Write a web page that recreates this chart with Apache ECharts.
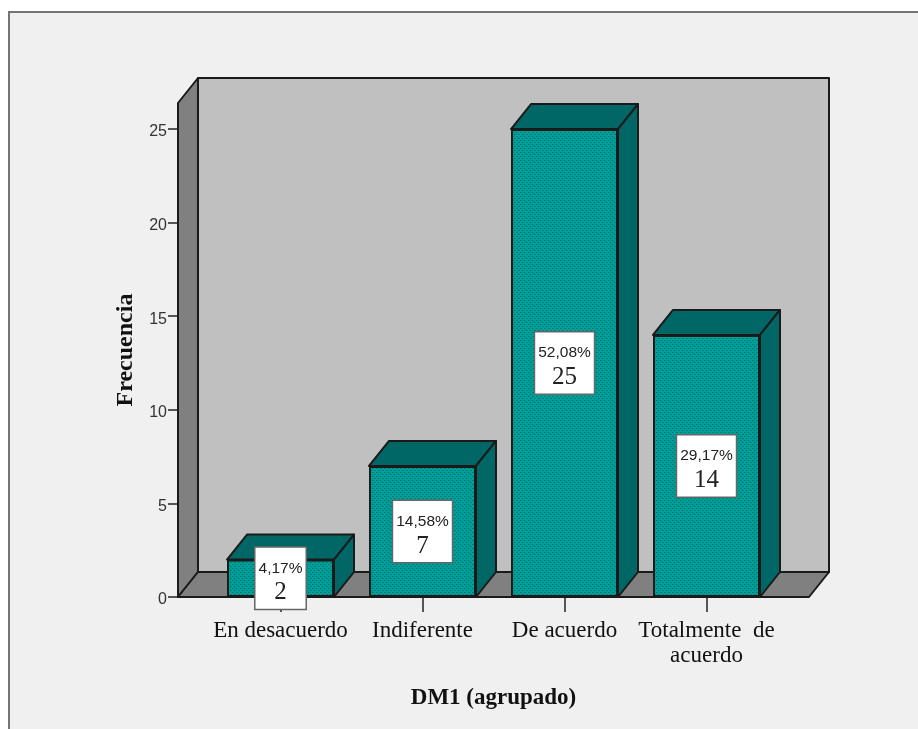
<!DOCTYPE html>
<html>
<head>
<meta charset="utf-8">
<style>html,body{margin:0;padding:0;background:#fff}#chart{width:918px;height:729px}</style>
<script src="https://cdn.jsdelivr.net/npm/echarts@6/dist/echarts.min.js"></script>
</head>
<body>
<div id="chart"></div>
<script>
// Frequencies of DM1 (grouped) as a pseudo-3D bar chart
const categories = ['En desacuerdo', 'Indiferente', 'De acuerdo', 'Totalmente  de\nacuerdo'];
const counts = [2, 7, 25, 14];
const percents = ['4,17%', '14,58%', '52,08%', '29,17%'];
const yTicks = [0, 5, 10, 15, 20, 25];

// Extrusion of the box and its faces
const DEPTH_X = 20, DEPTH_Y = 25, GUTTER = 31.5;
const FACE_TOP = '#006666', WALL_BACK = '#C0C0C0', WALL_SIDE = '#808080', EDGE = '#1a1a1a';

// Dither fill of the bar fronts
function ditherFill() {
  const c = document.createElement('canvas');
  c.width = 4; c.height = 4;
  const g = c.getContext('2d');
  g.fillStyle = '#00A09A';
  g.fillRect(0, 0, 4, 4);
  g.fillStyle = '#006E6C';
  g.fillRect(0, 0, 1, 1);
  g.fillRect(2, 2, 1, 1);
  g.fillStyle = '#008884';
  g.fillRect(1, 0, 1, 1);
  g.fillRect(3, 2, 1, 1);
  return { image: c, repeat: 'repeat' };
}

function poly(points, fill) {
  return {
    type: 'polygon',
    shape: { points },
    style: { fill, stroke: EDGE, lineWidth: 2, lineJoin: 'round' }
  };
}

const chart = echarts.init(document.getElementById('chart'), null, { renderer: 'canvas' });
const yMax = 26.39;

chart.setOption({
  animation: false,
  backgroundColor: '#fff',
  graphic: [{
    type: 'rect', z: -10, silent: true,
    shape: { x: 9, y: 12, width: 920, height: 730 },
    style: { fill: '#F0F0F0', stroke: '#757575', lineWidth: 2 }
  }],
  grid: { left: 209.5, top: 103, width: 568, height: 494 },
  xAxis: {
    type: 'category',
    data: categories,
    name: 'DM1 (agrupado)',
    nameLocation: 'middle',
    nameGap: 90,
    nameTextStyle: { fontFamily: 'Liberation Serif', fontWeight: 'bold', fontSize: 23, color: '#111' },
    axisLine: { show: false },
    axisTick: { show: true, alignWithLabel: true, length: 15, lineStyle: { color: '#222', width: 1.5 } },
    axisLabel: { fontFamily: 'Liberation Serif', fontSize: 23, color: '#111', margin: 21, lineHeight: 25, interval: 0 }
  },
  yAxis: {
    type: 'value',
    min: 0,
    max: yMax,
    interval: 5,
    offset: GUTTER,
    name: 'Frecuencia',
    nameLocation: 'middle',
    nameGap: 40,
    nameTextStyle: { fontFamily: 'Liberation Serif', fontWeight: 'bold', fontSize: 24, color: '#111' },
    splitLine: { show: false },
    axisLine: { show: false },
    axisTick: { show: true, length: 10, customValues: yTicks, lineStyle: { color: '#222', width: 1.5 } },
    axisLabel: {
      fontFamily: 'Liberation Sans', fontSize: 16, color: '#333', margin: 11,
      verticalAlign: 'top',
      lineHeight: 6,
      customValues: yTicks
    }
  },
  series: [
    {
      // Back wall, side wall and floor of the plot box
      type: 'custom',
      z: 1,
      silent: true,
      data: [0],
      renderItem(params, api) {
        const cs = params.coordSys;
        const l = cs.x - GUTTER, r = cs.x + cs.width + GUTTER;
        const t = cs.y, b = cs.y + cs.height;
        return {
          type: 'group',
          children: [
            poly([[l + DEPTH_X, t - DEPTH_Y], [r + DEPTH_X, t - DEPTH_Y], [r + DEPTH_X, b - DEPTH_Y], [l + DEPTH_X, b - DEPTH_Y]], WALL_BACK),
            poly([[l, t], [l + DEPTH_X, t - DEPTH_Y], [l + DEPTH_X, b - DEPTH_Y], [l, b]], WALL_SIDE),
            poly([[l, b], [l + DEPTH_X, b - DEPTH_Y], [r + DEPTH_X, b - DEPTH_Y], [r, b]], WALL_SIDE)
          ]
        };
      }
    },
    {
      // Top and right faces of every bar
      type: 'custom',
      z: 2,
      silent: true,
      data: counts.map((v, i) => [i, v]),
      encode: { x: 0, y: 1 },
      renderItem(params, api) {
        const half = 53.5;
        const top = api.coord([api.value(0), api.value(1)]);
        const base = api.coord([api.value(0), 0]);
        const xl = top[0] - half, xr = top[0] + half;
        return {
          type: 'group',
          children: [
            poly([[xl, top[1]], [xl + DEPTH_X, top[1] - DEPTH_Y], [xr + DEPTH_X, top[1] - DEPTH_Y], [xr, top[1]]], FACE_TOP),
            poly([[xr, top[1]], [xr + DEPTH_X, top[1] - DEPTH_Y], [xr + DEPTH_X, base[1] - DEPTH_Y], [xr, base[1]]], FACE_TOP)
          ]
        };
      }
    },
    {
      // Bar fronts carrying the percent and count box
      type: 'bar',
      z: 3,
      barWidth: 107,
      data: counts,
      itemStyle: { color: ditherFill(), borderColor: EDGE, borderWidth: 2 },
      label: {
        show: true,
        position: 'inside',
        backgroundColor: '#fff',
        borderColor: '#666',
        borderWidth: 1.5,
        padding: [9, 3, 3, 3],
        formatter: p => '{pct|' + percents[p.dataIndex] + '}\n{num|' + p.value + '}',
        rich: {
          pct: { fontFamily: 'Liberation Sans', fontSize: 15.5, color: '#222', lineHeight: 23, align: 'center' },
          num: { fontFamily: 'Liberation Serif', fontSize: 25, color: '#222', lineHeight: 26, align: 'center' }
        }
      }
    }
  ]
});
</script>
</body>
</html>
